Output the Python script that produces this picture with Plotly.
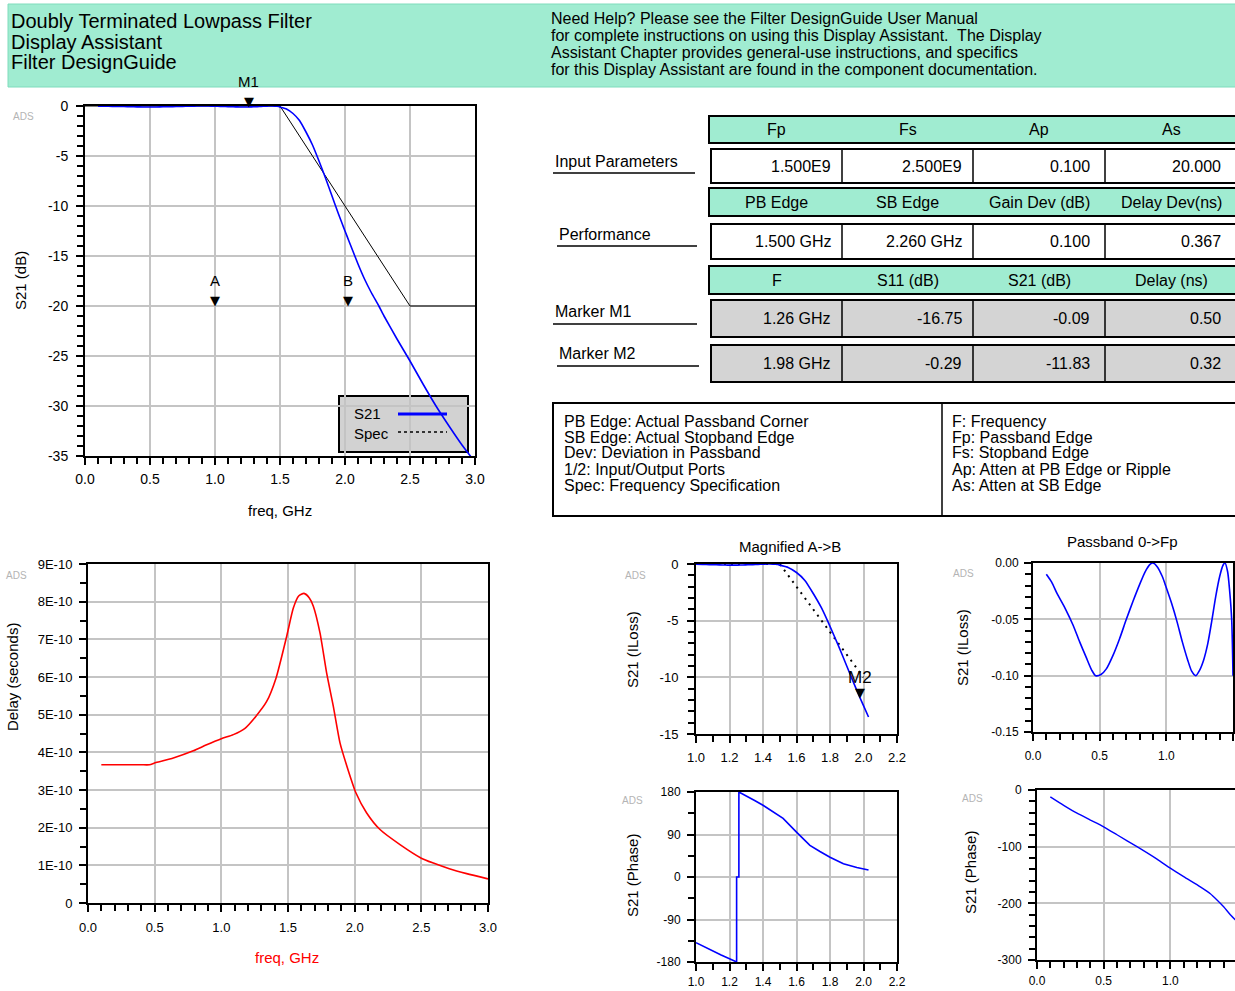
import numpy as np
import plotly.graph_objects as go

W, H = 1235, 991
FONT = "Liberation Sans, Arial, sans-serif"

# ---------------- data ----------------
# S21 magnitude (dB) versus frequency (GHz): passband ripple then roll-off
freq_ghz = [0.10, 0.14, 0.18, 0.24, 0.30, 0.35, 0.40, 0.44, 0.47, 0.51, 0.55, 0.60,
            0.65, 0.70, 0.75, 0.80, 0.84, 0.88, 0.90, 0.93, 0.97, 1.00, 1.04, 1.08,
            1.12, 1.16, 1.19, 1.22, 1.25, 1.28, 1.31, 1.34, 1.37, 1.40, 1.425, 1.44,
            1.46, 1.475, 1.49, 1.50, 1.55, 1.60, 1.65, 1.70, 1.75, 1.80, 1.85, 1.90,
            1.95, 1.98, 2.00, 2.03, 2.10, 2.15, 2.20, 2.26, 2.30, 2.40, 2.50, 2.60,
            2.70, 2.80, 2.90, 3.00]
s21_db = [-0.010, -0.017, -0.027, -0.040, -0.055, -0.070, -0.084, -0.095, -0.100, -0.099,
          -0.094, -0.082, -0.067, -0.050, -0.034, -0.019, -0.008, -0.001, 0.000, -0.003,
          -0.012, -0.022, -0.036, -0.052, -0.070, -0.086, -0.096, -0.100, -0.095, -0.086,
          -0.072, -0.052, -0.030, -0.012, -0.002, 0.000, -0.008, -0.025, -0.050, -0.100,
          -0.30, -0.75, -1.45, -2.6, -3.9, -5.5, -7.2, -9.0, -10.8, -11.83, -12.5, -13.5,
          -15.8, -17.3, -18.6, -20.0, -21.0, -23.3, -25.5, -27.8, -30.0, -32.0, -33.9, -35.6]

# frequency specification mask
spec_freq = [0.0, 1.5, 2.5, 3.0]
spec_db = [0.0, 0.0, -20.0, -20.0]
spec_ab_freq = [1.0, 1.5, 2.0]
spec_ab_db = [0.0, 0.0, -10.0]

# group delay (seconds)
delay_freq = [0.10, 0.20, 0.30, 0.40, 0.46, 0.51, 0.64, 0.79, 0.89, 1.00, 1.09, 1.175,
              1.26, 1.34, 1.41, 1.49, 1.54, 1.58, 1.62, 1.66, 1.69, 1.74, 1.79, 1.84,
              1.89, 1.95, 2.01, 2.09, 2.19, 2.34, 2.50, 2.59, 2.71, 2.84, 3.00]
delay_s = [3.67e-10, 3.67e-10, 3.67e-10, 3.67e-10, 3.67e-10, 3.73e-10, 3.85e-10, 4.04e-10,
           4.20e-10, 4.36e-10, 4.47e-10, 4.63e-10, 4.96e-10, 5.35e-10, 5.97e-10, 7.08e-10,
           7.83e-10, 8.15e-10, 8.22e-10, 8.10e-10, 7.88e-10, 7.17e-10, 6.10e-10, 5.22e-10,
           4.25e-10, 3.54e-10, 2.92e-10, 2.39e-10, 1.95e-10, 1.55e-10, 1.19e-10, 1.06e-10,
           0.91e-10, 0.78e-10, 0.64e-10]

# S21 phase (degrees), A->B span
phase_ab_freq = [1.00, 1.05, 1.10, 1.15, 1.20, 1.235, 1.2425, 1.2425, 1.256, 1.256, 1.30,
                 1.35, 1.40, 1.45, 1.52, 1.60, 1.68, 1.74, 1.80, 1.88, 1.96, 2.03]
phase_ab_deg = [-139, -148, -157, -165, -173, -180, -180, 0, 0, 180, 172, 162, 152, 141,
                124, 95, 67, 54, 42, 28, 20, 15]

# S21 phase (degrees), passband
phase_pb_freq = [0.10, 0.20, 0.30, 0.40, 0.50, 0.60, 0.75, 0.90, 1.00, 1.10, 1.225, 1.30,
                 1.35, 1.40, 1.45, 1.50]
phase_pb_deg = [-12, -27, -41, -53, -65, -79, -100, -122, -138, -153, -171, -183, -194,
                -206, -220, -232]

# markers
m1_freq, m1_db = 1.26, -0.09
m2_freq, m2_db = 1.98, -11.83
a_freq, b_freq, ab_level = 1.0, 2.02, -20.0
fp_ghz = 1.5

# tick values / labels
main_x_ticks = [0.0, 0.5, 1.0, 1.5, 2.0, 2.5, 3.0]
main_y_ticks = [0, -5, -10, -15, -20, -25, -30, -35]
delay_y_ticks = [0, 1e-10, 2e-10, 3e-10, 4e-10, 5e-10, 6e-10, 7e-10, 8e-10, 9e-10]
delay_y_labels = ["0", "1E-10", "2E-10", "3E-10", "4E-10", "5E-10", "6E-10", "7E-10", "8E-10", "9E-10"]
ab_x_ticks = [1.0, 1.2, 1.4, 1.6, 1.8, 2.0, 2.2]
ab_y_ticks = [0, -5, -10, -15]
pb_x_ticks = [0.0, 0.5, 1.0, 1.5]
pb_y_ticks = [0.0, -0.05, -0.10, -0.15]
phase_ab_ticks = [180, 90, 0, -90, -180]
phase_pb_ticks = [0, -100, -200, -300]

# tables
band1 = ["Fp", "Fs", "Ap", "As"]
input_vals = ["1.500E9", "2.500E9", "0.100", "20.000"]
band2 = ["PB Edge", "SB Edge", "Gain Dev (dB)", "Delay Dev(ns)"]
perf_vals = ["1.500 GHz", "2.260 GHz", "0.100", "0.367"]
band3 = ["F", "S11 (dB)", "S21 (dB)", "Delay (ns)"]
m1_vals = ["1.26 GHz", "-16.75", "-0.09", "0.50"]
m2_vals = ["1.98 GHz", "-0.29", "-11.83", "0.32"]
row_labels = ["Input Parameters", "Performance", "Marker M1", "Marker M2"]

notes_left = ["PB Edge: Actual Passband Corner", "SB Edge: Actual Stopband Edge",
              "Dev: Deviation in Passband", "1/2: Input/Output Ports",
              "Spec: Frequency Specification"]
notes_right = ["F: Frequency", "Fp: Passband Edge", "Fs: Stopband Edge",
               "Ap: Atten at PB Edge or Ripple", "As: Atten at SB Edge"]

header_left = ["Doubly Terminated Lowpass Filter", "Display Assistant", "Filter DesignGuide"]
header_right = ["Need Help? Please see the Filter DesignGuide User Manual",
                "for complete instructions on using this Display Assistant.  The Display",
                "Assistant Chapter provides general-use instructions, and specifics",
                "for this Display Assistant are found in the component documentation."]


# ---------------- helpers ----------------
def X(p):
    return p / W


def Y(p):
    return 1 - p / H


BLUE = "#0000ff"
RED = "#ff0000"
MINT = "#a0ecd1"
GRAYCELL = "#d4d4d4"


def axis(domain, rng, vals, texts, minor, anchor, size=13, standoff=6):
    return dict(
        domain=domain, range=rng, anchor=anchor, automargin=False, tickmode="array",
        tickvals=vals, ticktext=texts, ticks="outside", ticklen=7, tickwidth=2,
        tickcolor="black", showline=True, linecolor="black", linewidth=2,
        mirror=True, showgrid=True, gridcolor="#c4c4c4", gridwidth=1.5,
        zeroline=False, fixedrange=True,
        minor=dict(tick0=0, dtick=minor, ticks="outside", ticklen=6, tickwidth=1.5,
                   tickcolor="black", showgrid=False),
        tickfont=dict(family=FONT, size=size, color="black"),
        ticklabelstandoff=standoff,
    )


def fmt(v, nd):
    return f"{v:.{nd}f}"


f = np.array(freq_ghz)
s = np.array(s21_db)

fig = go.Figure()

# ---- main S21 plot
fig.add_trace(go.Scatter(x=spec_freq, y=spec_db, mode="lines",
                         line=dict(color="black", width=1), xaxis="x", yaxis="y"))
fig.add_trace(go.Scatter(x=f, y=s, mode="lines",
                         line=dict(color=BLUE, width=1.6, shape="spline", smoothing=0.5),
                         xaxis="x", yaxis="y"))

# ---- delay plot
fig.add_trace(go.Scatter(x=delay_freq, y=delay_s, mode="lines",
                         line=dict(color=RED, width=1.6, shape="spline", smoothing=0.6),
                         xaxis="x2", yaxis="y2"))

# ---- magnified A->B
ab = (f >= a_freq) & (f <= 2.03)
fig.add_trace(go.Scatter(x=spec_ab_freq, y=spec_ab_db, mode="lines",
                         line=dict(color="black", width=2, dash="2px,5px"),
                         xaxis="x3", yaxis="y3"))
fig.add_trace(go.Scatter(x=f[ab], y=s[ab], mode="lines",
                         line=dict(color=BLUE, width=1.6, shape="spline", smoothing=0.5),
                         xaxis="x3", yaxis="y3"))

# ---- passband 0->Fp
pb = f <= fp_ghz
fig.add_trace(go.Scatter(x=f[pb], y=s[pb], mode="lines",
                         line=dict(color=BLUE, width=1.6, shape="spline", smoothing=0.7),
                         xaxis="x4", yaxis="y4"))

# ---- phase A->B
fig.add_trace(go.Scatter(x=phase_ab_freq, y=phase_ab_deg, mode="lines",
                         line=dict(color=BLUE, width=1.6), xaxis="x5", yaxis="y5"))

# ---- passband phase
fig.add_trace(go.Scatter(x=phase_pb_freq, y=phase_pb_deg, mode="lines",
                         line=dict(color=BLUE, width=1.4, shape="spline", smoothing=0.6),
                         xaxis="x6", yaxis="y6"))

layout = dict(
    width=W, height=H, margin=dict(l=0, r=0, t=0, b=0, autoexpand=False),
    paper_bgcolor="white", plot_bgcolor="white", showlegend=False,
    font=dict(family=FONT, color="black"),
)

layout["xaxis"] = axis([X(85), X(475)], [0, 3], main_x_ticks,
                       [fmt(v, 1) for v in main_x_ticks], 0.1, "y", size=14, standoff=2)
layout["yaxis"] = axis([Y(456), Y(106)], [-35, 0], main_y_ticks,
                       [str(v) for v in main_y_ticks], 1, "x", size=14, standoff=5)
layout["xaxis2"] = axis([X(88), X(488)], [0, 3], main_x_ticks,
                        [fmt(v, 1) for v in main_x_ticks], 0.1, "y2", size=13, standoff=4)
layout["yaxis2"] = axis([Y(903), Y(564)], [0, 9e-10], delay_y_ticks, delay_y_labels,
                        0.5e-10, "x2", size=13, standoff=4)
layout["xaxis3"] = axis([X(696), X(897)], [1.0, 2.2], ab_x_ticks,
                        [fmt(v, 1) for v in ab_x_ticks], 0.1, "y3", size=13, standoff=3)
layout["yaxis3"] = axis([Y(734), Y(564)], [-15, 0], ab_y_ticks,
                        [str(v) for v in ab_y_ticks], 1, "x3", size=13, standoff=6)
layout["xaxis4"] = axis([X(1033), X(1233)], [0, 1.5], pb_x_ticks,
                        [fmt(v, 1) for v in pb_x_ticks], 0.1, "y4", size=12, standoff=5)
layout["yaxis4"] = axis([Y(732), Y(563)], [-0.15, 0], pb_y_ticks,
                        [fmt(v, 2) for v in pb_y_ticks], 0.01, "x4", size=12, standoff=3)
layout["xaxis5"] = axis([X(696), X(897)], [1.0, 2.2], ab_x_ticks,
                        [fmt(v, 1) for v in ab_x_ticks], 0.1, "y5", size=12, standoff=1)
layout["yaxis5"] = axis([Y(962), Y(792)], [-180, 180], phase_ab_ticks,
                        [str(v) for v in phase_ab_ticks], 45, "x5", size=12, standoff=4)
layout["xaxis6"] = axis([X(1037), 1.0], [0, 1.485], pb_x_ticks,
                        [fmt(v, 1) for v in pb_x_ticks], 0.1, "y6", size=12, standoff=2)
layout["yaxis6"] = axis([Y(960), Y(790)], [-300, 0], phase_pb_ticks,
                        [str(v) for v in phase_pb_ticks], 20, "x6", size=12, standoff=4)

shapes = []
annotations = []


def text(x, y, t, size=15, xanchor="left", color="black", angle=0, xref="paper",
         yref="paper", yanchor="middle", yshift=0):
    annotations.append(dict(
        x=x if xref != "paper" else X(x), y=y if yref != "paper" else Y(y),
        xref=xref, yref=yref, text=t, showarrow=False, xanchor=xanchor,
        yanchor=yanchor, textangle=angle, yshift=yshift,
        font=dict(family=FONT, size=size, color=color)))


def rect(x0, y0, x1, y1, fill, line="black", lw=2, layer="above"):
    shapes.append(dict(type="rect", xref="paper", yref="paper",
                       x0=X(x0), x1=X(x1), y0=Y(y1), y1=Y(y0),
                       fillcolor=fill, line=dict(color=line, width=lw), layer=layer))


def hline(x0, x1, y, color="black", lw=1.5, dash="solid"):
    shapes.append(dict(type="line", xref="paper", yref="paper",
                       x0=X(x0), x1=X(x1), y0=Y(y), y1=Y(y),
                       line=dict(color=color, width=lw, dash=dash)))


# ---- header banner
rect(8, 4, 1240, 87, MINT, line="#7fdcbc", lw=1, layer="below")
for i, t in enumerate(header_left):
    text(9, 21 + i * 20.5, t, size=20)
for i, t in enumerate(header_right):
    text(549, 19 + i * 16.7, t, size=16)

# ---- parameter tables
col_edges = [711, 842, 973, 1105, 1238]
col_right = [833, 964, 1092, 1223]


def band(y0, y1, labels):
    rect(709, y0, 1240, y1, MINT, lw=2)
    for i, lab in enumerate(labels):
        cx = (col_edges[i] + col_edges[i + 1]) / 2
        text(cx, (y0 + y1) / 2, lab, size=16, xanchor="center")


def row(y0, y1, vals, fill):
    rect(711, y0, 1240, y1, fill, lw=2)
    for xe in col_edges[1:4]:
        shapes.append(dict(type="line", xref="paper", yref="paper", x0=X(xe), x1=X(xe),
                           y0=Y(y0), y1=Y(y1), line=dict(color="black", width=1.5)))
    for i, v in enumerate(vals):
        text(col_right[i], (y0 + y1) / 2, v, size=16, xanchor="right")


band(116, 143, band1)
row(149, 183, input_vals, "white")
band(188, 216, band2)
row(224, 259, perf_vals, "white")
band(266, 294, band3)
row(300, 337, m1_vals, GRAYCELL)
row(345, 382, m2_vals, GRAYCELL)

label_pos = [(553, 161, 173, 695), (557, 234, 246, 697), (553, 312, 324, 697), (557, 354, 366, 699)]
for lab, (lx, ly, uy, ux) in zip(row_labels, label_pos):
    text(lx, ly, lab, size=16)
    hline(lx, ux, uy, lw=1.5)

# ---- notes box
rect(553, 403, 1245, 516, "white", lw=2)
shapes.append(dict(type="line", xref="paper", yref="paper", x0=X(942), x1=X(942),
                   y0=Y(403), y1=Y(516), line=dict(color="black", width=1.5)))
for i, t in enumerate(notes_left):
    text(562, 421 + i * 16, t, size=16)
for i, t in enumerate(notes_right):
    text(950, 421 + i * 16, t, size=16)

# ---- main plot legend box (sits under the traces)
shapes.append(dict(type="rect", xref="x domain", yref="y domain",
                   x0=(339 - 85) / 390, x1=(468 - 85) / 390,
                   y0=(456 - 452) / 350, y1=(456 - 396) / 350,
                   fillcolor="#d2d2d2", line=dict(color="black", width=2), layer="below"))
hline(398, 447, 414, color=BLUE, lw=3)
hline(398, 447, 432, color="black", lw=1.5, dash="dot")
text(352, 413, "S21", size=15)
text(352, 433, "Spec", size=15)


# ---- marker glyphs
def marker(xr, yr, xv, yv, lab, size=15, lshift=15):
    annotations.append(dict(x=xv, y=yv, xref=xr, yref=yr, text="▼", showarrow=False,
                            xanchor="center", yanchor="bottom", yshift=-4,
                            font=dict(family="DejaVu Sans", size=13, color="black")))
    annotations.append(dict(x=xv, y=yv, xref=xr, yref=yr, text=lab, showarrow=False,
                            xanchor="center", yanchor="bottom", yshift=lshift,
                            font=dict(family=FONT, size=size, color="black")))


marker("x", "y", m1_freq, m1_db, "M1")
marker("x", "y", a_freq, ab_level, "A")
marker("x", "y", b_freq, ab_level, "B")
marker("x3", "y3", m2_freq, m2_db, "M2", size=17, lshift=9)

# ---- titles and axis labels
text(20, 281, "S21 (dB)", size=15, xanchor="center", angle=-90)
text(280, 510, "freq, GHz", size=15, xanchor="center")
text(12, 677, "Delay (seconds)", size=15, xanchor="center", angle=-90)
text(287, 957, "freq, GHz", size=15, xanchor="center", color=RED)
text(790, 546, "Magnified A->B", size=15, xanchor="center")
text(1122, 541, "Passband 0->Fp", size=15, xanchor="center")
text(632, 650, "S21 (ILoss)", size=15, xanchor="center", angle=-90)
text(632, 876, "S21 (Phase)", size=15, xanchor="center", angle=-90)
text(962, 648, "S21 (ILoss)", size=15, xanchor="center", angle=-90)
text(970, 873, "S21 (Phase)", size=15, xanchor="center", angle=-90)

for ax, ay in [(23, 116), (16, 575), (635, 575), (963, 573), (632, 800), (972, 798)]:
    text(ax, ay, "ADS", size=10, xanchor="center", color="#b4b4b4")

layout["shapes"] = shapes
layout["annotations"] = annotations
fig.update_layout(**layout)

fig.write_html("out.html")
